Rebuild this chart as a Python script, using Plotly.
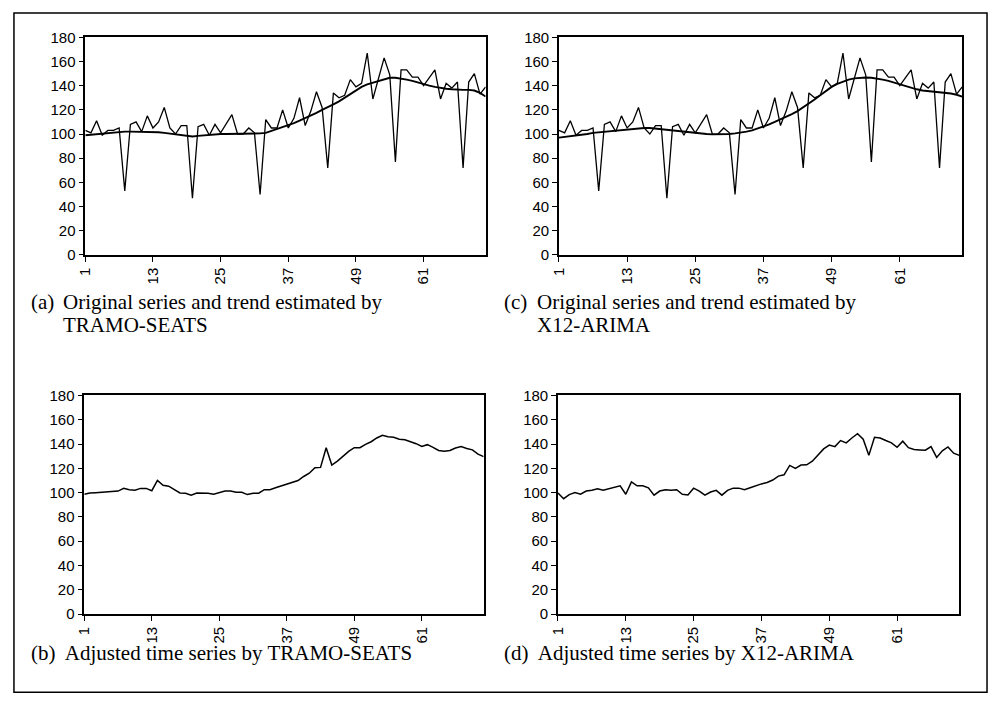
import plotly.graph_objects as go

# Monthly index, observations 1..72
period = list(range(1, 73))

original = [103, 101, 111, 99, 103, 103, 105, 53, 108, 110, 102, 115,
            105, 110, 122, 105, 100, 107, 107, 47, 106, 108, 99, 108,
            101, 108, 116, 100, 100, 105, 101, 50, 112, 105, 105, 120,
            105, 113, 130, 107, 119, 135, 122, 72, 134, 130, 132, 145,
            139, 142, 167, 129, 147, 163, 149, 77, 153, 153, 147, 147,
            140, 147, 153, 129, 142, 138, 143, 72, 143, 150, 133, 139]

trend_seats = [99, 99.5, 100, 100.5, 101, 101.5, 102, 102, 102, 102, 102, 102,
               102, 101.5, 101, 100.5, 100, 99, 98.5, 98, 98.5, 99, 99.5, 100,
               100, 100, 100, 100, 100, 100, 100, 100.5, 101, 102.5, 104, 105.5,
               107, 109, 111, 113, 115, 117.5, 120, 122, 124.5, 127, 130, 133,
               136.5, 139, 141, 142.5, 144, 145.5, 146.5, 146.5, 146, 145, 144, 142.5,
               141, 140, 139, 138, 137.5, 137, 136.5, 136.5, 136.5, 136, 134, 131]

trend_x12 = [97, 97.5, 98, 99, 99.5, 100, 101, 101.5, 102, 102.5, 103, 103.5,
             104, 104.5, 105, 105, 105, 104.5, 104, 103, 102.5, 102, 101.5, 101,
             100.5, 100, 100, 99.7, 99.7, 100, 100, 100.5, 101, 102, 103, 104.5,
             106, 108, 110, 112, 114, 116.5, 119, 122, 125, 128.5, 132, 135.5,
             139, 141.5, 143.5, 145, 146, 146.5, 146.8, 146.5, 146, 145, 144, 142.5,
             141, 139.5, 138, 137, 136, 135.5, 135, 134.7, 134.3, 133.5, 132.5, 131]

adjusted_seats = [98.7, 99.7, 100, 100.3, 100.5, 101.3, 101.3, 103.5, 102.4, 102, 103.5, 103.5,
                  101.6, 110, 106, 105.3, 102.4, 99.7, 99.5, 97.9, 99.7, 99.7, 99.5, 98.7,
                  100, 101.3, 101.3, 100.3, 100.3, 98.4, 99.5, 99.5, 102.4, 102.4, 104, 105.6,
                  107.2, 108.5, 110, 113.3, 116, 120.5, 120.8, 137, 122.7, 126, 130, 134,
                  137, 137, 139.7, 141.9, 145, 147.2, 146, 145.6, 144, 143.5, 141.9, 140.3,
                  138, 139.5, 137.3, 134.7, 134.1, 134.7, 136.8, 137.9, 136.3, 135.2, 131.7, 129.6]

adjusted_x12 = [99.7, 95, 98.4, 100, 98.7, 101.3, 102, 103.2, 102, 103, 104, 105.6,
                98.7, 108.8, 105.6, 105.6, 104, 97.9, 101.3, 102.4, 102, 102.4, 98.7, 98.1,
                103.7, 101.3, 97.9, 100.5, 101.9, 97.9, 101.9, 103.7, 103.7, 102.4, 104, 105.9,
                107.2, 108.3, 110.4, 113.6, 114.7, 122.4, 120, 122.7, 122.9, 125.9, 131.2, 136,
                139.2, 137.9, 142.9, 141, 145, 148.5, 144, 130.7, 145.6, 145, 142.9, 141,
                137.3, 142.4, 137, 135.5, 135.2, 134.9, 137.9, 129, 134.4, 137.6, 132.5, 130.7]

x_ticks = [1, 13, 25, 37, 49, 61]
y_ticks = [0, 20, 40, 60, 80, 100, 120, 140, 160, 180]

W, H = 990, 707


def px_x(p):
    return p / W


def px_y(p):
    return 1 - p / H


# panel boxes in pixels: (left, right, top, bottom)
panels = {
    "a": (77, 481, 29, 252),
    "c": (555, 962, 29, 252),
    "b": (76, 479, 396, 620),
    "d": (554, 959, 396, 620),
}

fig = go.Figure()

series_by_panel = {
    "a": [(original, 1.3), (trend_seats, 1.9)],
    "c": [(original, 1.3), (trend_x12, 1.9)],
    "b": [(adjusted_seats, 1.5)],
    "d": [(adjusted_x12, 1.5)],
}

tick_font = dict(family="Liberation Sans, Arial, sans-serif", size=15, color="black")
layout = {}
for n, key in enumerate(["a", "c", "b", "d"], start=1):
    left, right, top, bottom = panels[key]
    xa = f"xaxis{n}" if n > 1 else "xaxis"
    ya = f"yaxis{n}" if n > 1 else "yaxis"
    xr = f"x{n}" if n > 1 else "x"
    yr = f"y{n}" if n > 1 else "y"
    layout[xa] = dict(
        domain=[px_x(left), px_x(right)], anchor=yr, range=[1, 72],
        tickmode="array", tickvals=x_ticks, ticktext=[str(t) for t in x_ticks],
        tickangle=-90, ticks="outside", ticklen=5, tickwidth=1.3, tickcolor="black",
        showline=True, linecolor="black", linewidth=1.5, mirror=True,
        showgrid=False, zeroline=False, tickfont=tick_font,
    )
    layout[ya] = dict(
        domain=[px_y(bottom), px_y(top)], anchor=xr, range=[0, 180],
        tickmode="array", tickvals=y_ticks, ticks="outside", ticklen=5,
        tickwidth=1.3, tickcolor="black",
        showline=True, linecolor="black", linewidth=1.5, mirror=True,
        showgrid=False, zeroline=False, tickfont=tick_font,
    )
    # overlaid axes give the inner half of each tick, so ticks cross the axis line
    m = n + 4
    layout[f"xaxis{m}"] = dict(
        overlaying=xr, anchor=yr, range=[1, 72], tickmode="array", tickvals=x_ticks,
        ticks="inside", ticklen=5, tickwidth=1.3, tickcolor="black",
        showticklabels=False, showline=False, showgrid=False, zeroline=False,
    )
    layout[f"yaxis{m}"] = dict(
        overlaying=yr, anchor=xr, range=[0, 180], tickmode="array", tickvals=y_ticks,
        ticks="inside", ticklen=5, tickwidth=1.3, tickcolor="black",
        showticklabels=False, showline=False, showgrid=False, zeroline=False,
    )
    for values, lw in series_by_panel[key]:
        fig.add_trace(go.Scatter(
            x=period, y=values, mode="lines", xaxis=xr, yaxis=yr,
            line=dict(color="black", width=lw), showlegend=False, hoverinfo="skip",
        ))

cap_font = dict(family="Liberation Serif, Times New Roman, serif", size=21, color="black")


def caption(x, y, text):
    return dict(x=px_x(x), y=px_y(y), xref="paper", yref="paper", text=text,
                showarrow=False, xanchor="left", yanchor="middle", font=cap_font)


annotations = [
    caption(20, 300, "(a)"),
    caption(52, 300, "Original series and trend estimated by"),
    caption(52, 324, "TRAMO-SEATS"),
    caption(498, 300, "(c)"),
    caption(531, 300, "Original series and trend estimated by"),
    caption(531, 324, "X12-ARIMA"),
    caption(20, 660, "(b)  Adjusted time series by TRAMO-SEATS"),
    caption(498, 660, "(d)  Adjusted time series by X12-ARIMA"),
]

fig.update_layout(
    width=W, height=H,
    margin=dict(l=0, r=0, t=0, b=0),
    paper_bgcolor="white", plot_bgcolor="white",
    annotations=annotations,
    shapes=[dict(type="rect", xref="paper", yref="paper",
                 x0=px_x(5), x1=px_x(987), y0=px_y(700), y1=px_y(4),
                 line=dict(color="black", width=1.5))],
    **layout,
)

# page without body margin or scrollbars so the 990x707 figure fills the window
fig.write_html(
    "out.html",
    post_script="document.body.style.margin='0';document.body.style.overflow='hidden';",
)
